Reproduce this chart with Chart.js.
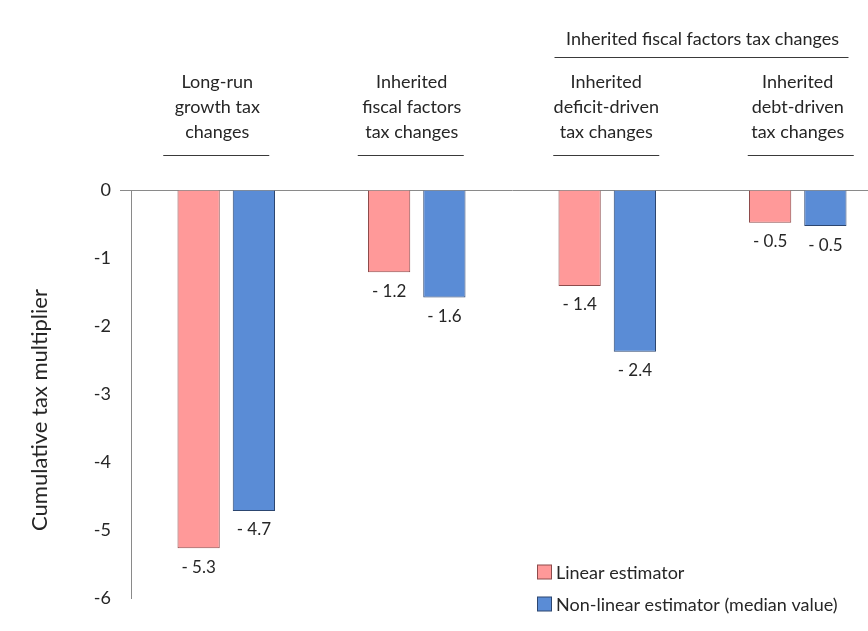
<!DOCTYPE html>
<html>
<head>
<meta charset="utf-8">
<script src="https://cdn.jsdelivr.net/npm/chart.js@4.4.1/dist/chart.umd.min.js"></script>
<style>
  html, body { margin: 0; padding: 0; background: #ffffff; overflow: hidden; }
  #wrap { position: relative; width: 900px; height: 631px; }
</style>
</head>
<body>
<div id="wrap"><canvas id="chart" width="900" height="631"></canvas></div>
<script>
// Tax-change categories (multi-line headings drawn above the bars)
const categories = [
  ['Long-run', 'growth tax', 'changes'],
  ['Inherited', 'fiscal factors', 'tax changes'],
  ['Inherited', 'deficit-driven', 'tax changes'],
  ['Inherited', 'debt-driven', 'tax changes']
];
// Umbrella heading spanning the last two categories
const groupHeading = 'Inherited fiscal factors tax changes';
const groupSpan = [2, 3];

const seriesNames = ['Linear estimator', 'Non-linear estimator (median value)'];
const linearValues = [-5.27, -1.21, -1.41, -0.48];
const nonLinearValues = [-4.72, -1.58, -2.38, -0.53];

const yTicks = [0, -1, -2, -3, -4, -5, -6];

const FONT = 'Lato, "Open Sans", sans-serif';
const TEXT = '#262626';
const pinkFill = '#FF9999', pinkBorder = '#8E4B4B';
const blueFill = '#5A8CD6', blueBorder = '#2C4670';

const fmt = v => (v < 0 ? '- ' : '') + Math.abs(v).toFixed(1);

// Headings, value labels, y title and legend
const decorations = {
  id: 'decorations',
  afterDatasetsDraw(chart) {
    const ctx = chart.ctx;
    const x = chart.scales.x;
    const area = chart.chartArea;
    ctx.save();
    ctx.fillStyle = TEXT;
    ctx.textAlign = 'center';
    ctx.textBaseline = 'middle';

    // value labels under every bar
    ctx.font = '17px ' + FONT;
    chart.data.datasets.forEach((ds, di) => {
      chart.getDatasetMeta(di).data.forEach((bar, i) => {
        ctx.fillText(fmt(ds.data[i]), bar.x, bar.y + 19);
      });
    });

    // category headings with underline
    ctx.font = '18px ' + FONT;
    const shift = [-9, -5, -1, 0];
    const lineShift = [-10, -6, -1, 3];
    ctx.strokeStyle = '#3a3a3a';
    ctx.lineWidth = 1;
    categories.forEach((lines, i) => {
      const cx = x.getPixelForValue(i);
      lines.forEach((t, k) => ctx.fillText(t, cx + shift[i], 82 + k * 25));
      const lx = cx + lineShift[i];
      ctx.beginPath();
      ctx.moveTo(lx - 53, 155.5);
      ctx.lineTo(lx + 53, 155.5);
      ctx.stroke();
    });

    // umbrella heading
    const gx = (x.getPixelForValue(groupSpan[0]) + x.getPixelForValue(groupSpan[1])) / 2;
    ctx.fillText(groupHeading, gx, 39);
    ctx.beginPath();
    ctx.moveTo(gx - 148, 57.5);
    ctx.lineTo(gx + 146, 57.5);
    ctx.stroke();

    // y-axis title
    ctx.save();
    ctx.translate(40, (area.top + area.bottom) / 2 + 16);
    ctx.rotate(-Math.PI / 2);
    ctx.font = '22px ' + FONT;
    ctx.fillText('Cumulative tax multiplier', 0, 0);
    ctx.restore();

    // legend
    ctx.textAlign = 'left';
    ctx.font = '18px ' + FONT;
    const items = [[pinkFill, pinkBorder], [blueFill, blueBorder]];
    items.forEach((c, k) => {
      const ly = 572 + k * 32;
      ctx.fillStyle = c[0];
      ctx.fillRect(537.5, ly - 7, 14, 14);
      ctx.strokeStyle = c[1];
      ctx.strokeRect(537.5, ly - 7, 14, 14);
      ctx.fillStyle = TEXT;
      ctx.fillText(seriesNames[k], 556, ly + 1);
    });
    ctx.restore();
  }
};

new Chart(document.getElementById('chart'), {
  type: 'bar',
  data: {
    labels: categories.map(c => c.join(' ')),
    datasets: [
      { label: seriesNames[0], data: linearValues, backgroundColor: pinkFill, borderColor: pinkBorder, borderWidth: 1, borderSkipped: 'start' },
      { label: seriesNames[1], data: nonLinearValues, backgroundColor: blueFill, borderColor: blueBorder, borderWidth: 1, borderSkipped: 'start' }
    ]
  },
  options: {
    responsive: false,
    animation: false,
    events: [],
    layout: { padding: { top: 190, bottom: 33, left: 0, right: 7 } },
    datasets: { bar: { categoryPercentage: 0.58, barPercentage: 0.765 } },
    plugins: { legend: { display: false }, tooltip: { enabled: false } },
    scales: {
      x: {
        position: 'top',
        grid: { display: false },
        ticks: { display: false },
        border: { display: true, color: '#8a8a8a', width: 1 },
        afterFit(s) { s.height = 0; }
      },
      y: {
        min: -6,
        max: 0,
        afterFit(s) { s.width = 131; },
        afterBuildTicks(s) { s.ticks = yTicks.map(v => ({ value: v })); },
        grid: {
          drawOnChartArea: false,
          tickLength: 11,
          color: c => (c.tick && c.tick.value === 0 ? '#8a8a8a' : 'rgba(0,0,0,0)')
        },
        border: { display: true, color: '#8a8a8a', width: 1 },
        ticks: {
          padding: 9,
          color: TEXT,
          font: { family: FONT, size: 18 },
          callback: v => String(v)
        }
      }
    }
  },
  plugins: [decorations]
});
</script>
</body>
</html>
